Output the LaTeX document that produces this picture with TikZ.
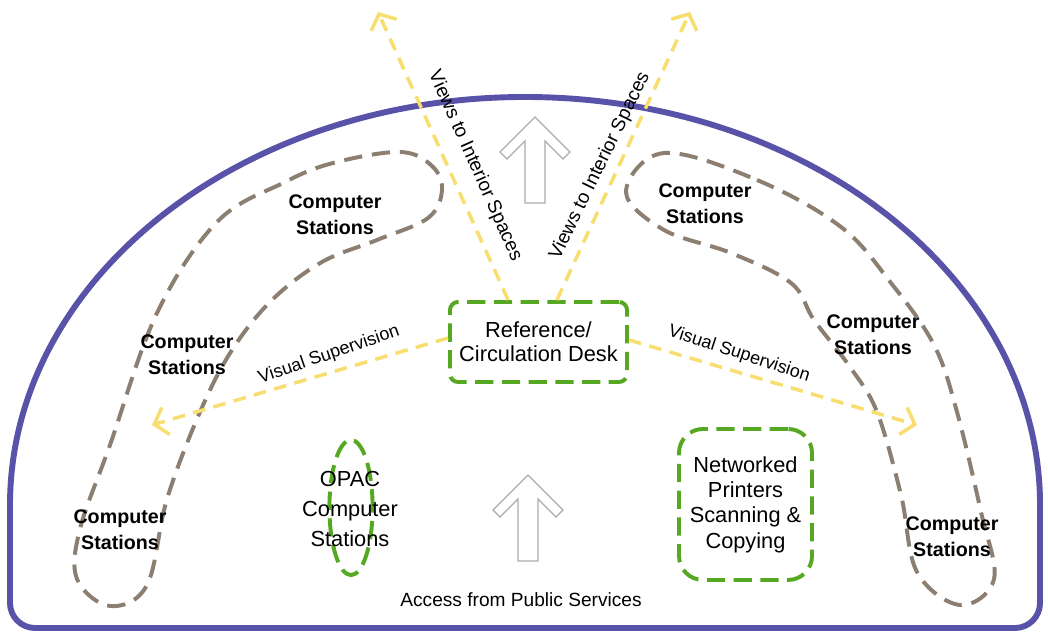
\documentclass[tikz,border=0pt]{standalone}
\usepackage{fontspec}
\setmainfont{Liberation Sans}
\usetikzlibrary{arrows.meta,positioning}

\definecolor{wallblue}{RGB}{88,82,168}
\definecolor{zonebrown}{RGB}{140,126,112}
\definecolor{deskgreen}{RGB}{86,168,34}
\definecolor{viewyellow}{RGB}{248,222,112}

\tikzset{
	uparrow/.pic={
		\draw[hollow] (0,0) -- (35,-35) -- (28,-42) -- (10,-24) -- (10,-86)
			-- (-10,-86) -- (-10,-24) -- (-28,-42) -- (-35,-35) -- cycle;
	}
}

\begin{document}
\begin{tikzpicture}[x=0.25mm,y=0.25mm,
	wall/.style={draw=wallblue,line width=4.2pt},
	zone/.style={draw=zonebrown,line width=2.8pt,dash pattern=on 13pt off 7pt},
	service/.style={draw=deskgreen,line width=2.8pt,dash pattern=on 13pt off 6pt,align=center},
	view/.style={draw=viewyellow,line width=2.5pt,dash pattern=on 9pt off 6pt,
		-{Straight Barb[length=3mm,width=7mm,line width=2.5pt]}},
	stations/.style={align=center,font=\fontsize{14}{18.5}\selectfont\bfseries},
	note/.style={font=\fontsize{13.6}{16}\selectfont},
	hollow/.style={draw=gray!65,fill=white,line width=0.8pt}]

	\useasboundingbox[fill=white] (0,0) rectangle (1048,632);

	\draw[wall] (10,127) arc[start angle=180,end angle=0,x radius=128.75mm,y radius=102mm]
		-- (1040,29) arc[start angle=0,end angle=-90,radius=6.25mm]
		-- (35,4) arc[start angle=270,end angle=180,radius=6.25mm] -- cycle;

	\draw[zone] plot[smooth cycle,tension=0.6] coordinates {
		(400,480) (333,469) (283,449) (217,410) (157,319) (110,187) (80,103) (77,53)
		(110,26) (147,47) (167,133) (200,220) (232,282) (272,332) (322,370) (377,392)
		(428,414) (442,442) (432,466)};
	\draw[zone] plot[smooth cycle,tension=0.6] coordinates {
		(664,479) (757,452) (841,405) (891,349) (934,287) (957,220) (981,120) (994,53)
		(960,27) (917,60) (901,137) (877,220) (850,265) (814,312) (791,349) (731,379)
		(664,402) (626,440)};

	\pic at (535,515) {uparrow};
	\pic at (528,157) {uparrow};

	\node[service,rounded corners=2mm,minimum width=44.25mm,minimum height=20mm,
		font=\fontsize{15.5}{17}\selectfont] (desk) at (538.5,290) {Reference/\\Circulation Desk};
	\node[service,rounded corners=6mm,minimum width=33.25mm,minimum height=37.75mm,
		font=\fontsize{15.5}{18}\selectfont] (copy) at (745.5,127.5) {Networked\\Printers\\Scanning \&\\Copying};
	\draw[service] (351,124.5) ellipse[x radius=5.4mm,y radius=16.9mm];
	\node[align=center,font=\fontsize{15.5}{21.3}\selectfont] (opac) at (350,123) {OPAC\\Computer\\Stations};

	\coordinate (viewl) at (378,620);
	\coordinate (viewr) at (690,620);
	\coordinate (supl) at (152,207);
	\coordinate (supr) at (917,207);

	\draw[view] ([xshift=-7.6mm]desk.north) -- (viewl);
	\draw[view] ([xshift=4.6mm]desk.north) -- (viewr);
	\draw[view] ([yshift=1mm]desk.west) -- (supl);
	\draw[view] ([yshift=0.5mm]desk.east) -- (supr);

	\node[note,rotate=-66] (viewlabl) at (475,466) {Views to Interior Spaces};
	\node[note,rotate=64] (viewlabr) at (600,466) {Views to Interior Spaces};
	\node[note,rotate=19,font=\fontsize{12.8}{15}\selectfont] (suplabl) at (329,277) {Visual Supervision};
	\node[note,rotate=-18,font=\fontsize{12.8}{15}\selectfont] (suplabr) at (739,278) {Visual Supervision};

	\node[stations] (cs1) at (335,417) {Computer\\Stations};
	\node[stations] (cs2) at (187,277) {Computer\\Stations};
	\node[stations] (cs3) at (120,102) {Computer\\Stations};
	\node[stations] (cs4) at (705,428) {Computer\\Stations};
	\node[stations] (cs5) at (873,297) {Computer\\Stations};
	\node[stations] (cs6) at (952,95) {Computer\\Stations};

	\node[note] (access) at (521,32) {Access from Public Services};
\end{tikzpicture}
\end{document}
